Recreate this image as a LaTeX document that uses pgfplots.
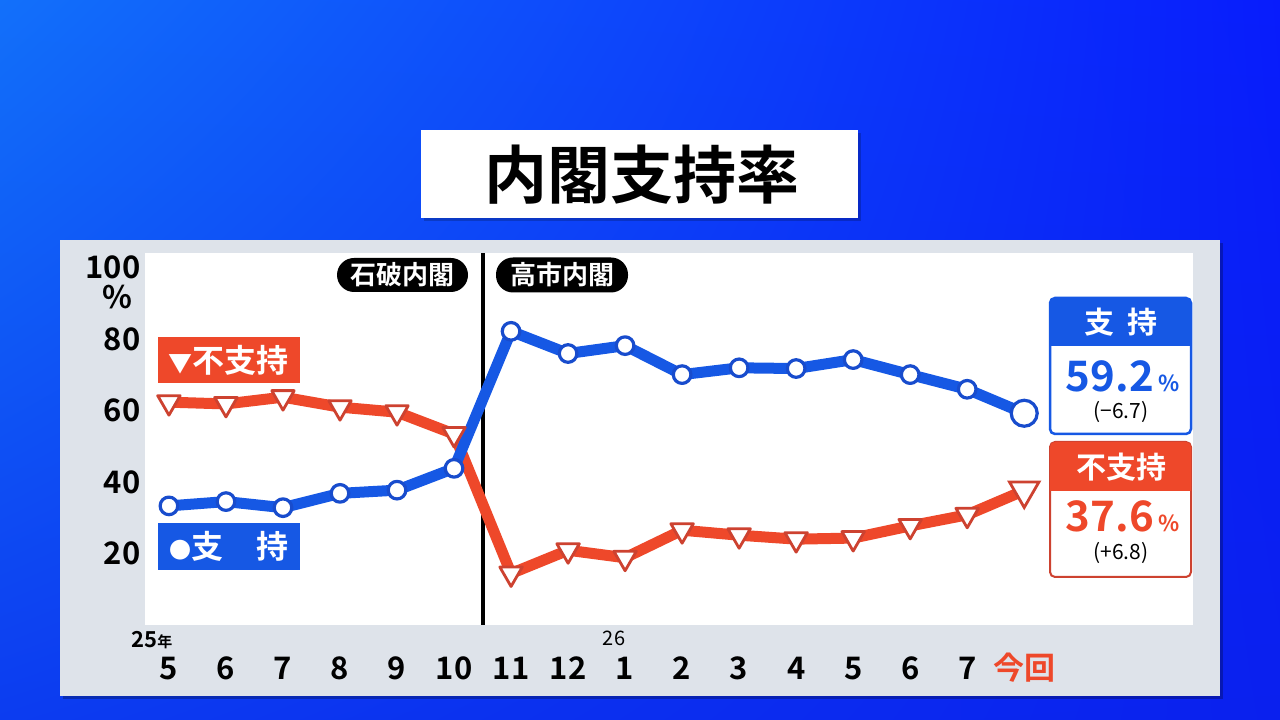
\documentclass[border=0pt]{standalone}
\usepackage{fontspec}
\setmainfont{Noto Sans CJK JP}[BoldFont={Noto Sans CJK JP Bold}]
\usepackage{pgfplots}
\usepackage{pgfplotstable}
\usetikzlibrary{shadings}
\pgfplotsset{compat=1.18}
\definecolor{bgul}{RGB}{18,112,250}
\definecolor{bgur}{RGB}{8,28,252}
\definecolor{bgll}{RGB}{12,60,240}
\definecolor{bglr}{RGB}{10,32,238}
\definecolor{panel}{RGB}{222,227,234}
\definecolor{sblue}{RGB}{22,88,228}
\definecolor{mblue}{RGB}{24,76,205}
\definecolor{sred}{RGB}{238,72,42}
\definecolor{mred}{RGB}{205,66,48}

\pgfplotstableread{
x y
0 33.3
1 34.5
2 32.8
3 36.8
4 37.7
5 43.8
6 82.1
7 75.9
8 78.1
9 70.0
10 71.9
11 71.7
12 74.2
13 70.0
14 65.9
15 59.2
}\shiji

\pgfplotstableread{
x y
0 62.3
1 61.8
2 63.7
3 60.9
4 59.5
5 53.4
6 14.4
7 20.9
8 18.8
9 26.5
10 25.1
11 24.0
12 24.3
13 27.7
14 30.8
15 37.6
}\fushiji

\begin{document}
\begin{tikzpicture}[x=1pt,y=1pt]
\useasboundingbox (0,0) rectangle (1280,720);
\shade[upper left=bgul, upper right=bgur, lower left=bgll, lower right=bglr] (0,0) rectangle (1280,720);
% title
\fill[black,opacity=0.2] (424,499) rectangle (861,587);
\fill[white] (421,502) rectangle (858,590);
\node[font=\fontsize{63}{63}\selectfont\bfseries] at (642,545) {内閣支持率};
% panel
\fill[black,opacity=0.25] (63,21) rectangle (1223,477);
\fill[panel] (60,24) rectangle (1220,480);
\fill[white] (145,95) rectangle (1193,467);

\begin{axis}[
  at={(145pt,95pt)}, anchor=south west,
  scale only axis, width=1048pt, height=372pt,
  xmin=-0.42, xmax=17.96, ymin=0, ymax=104,
  axis line style={draw=none},
  major tick length=0pt,
  xtick={0,...,15},
  xticklabels={5,6,7,8,9,10,11,12,1,2,3,4,5,6,7,{\textcolor{sred}{今回}}},
  ytick={20,40,60,80,100},
  yticklabels={20,40,60,80,100},
  tick label style={font=\fontsize{31}{31}\selectfont\bfseries},
  xticklabel style={anchor=base, yshift=-55pt},
  yticklabel style={anchor=east, xshift=-1pt},
  /pgf/number format/assume math mode=true,
  clip=false,
]
\draw[black, line width=4pt] (axis cs:5.5,0) -- (axis cs:5.5,104);
\addplot[sred, line width=11pt, line join=round, mark=triangle*, mark size=13pt,
  mark options={rotate=180, fill=white, draw=mred, line width=2.8pt}] table {\fushiji};
\addplot[only marks, mark=triangle*, mark size=17pt,
  mark options={rotate=180, fill=white, draw=mred, line width=2.8pt}] coordinates {(15,37.6)};
\addplot[sblue, line width=11pt, line join=round, mark=*, mark size=8.8pt,
  mark options={fill=white, draw=mblue, line width=3.2pt}] table {\shiji};
\addplot[only marks, mark=*, mark size=13pt,
  mark options={fill=white, draw=mblue, line width=3.2pt}] coordinates {(15,59.2)};
\end{axis}

% y unit
\node[anchor=east, inner sep=0, font=\fontsize{31}{31}\selectfont\bfseries] at (133,423) {\%};
% year marks
\node[font=\fontsize{22}{22}\selectfont\bfseries, inner sep=0] at (152,80) {25{\fontsize{15}{15}\selectfont 年}};
\node[font=\fontsize{20}{20}\selectfont, inner sep=0] at (614,82) {26};

% cabinet pills
\node[fill=black, text=white, rounded corners=17pt, minimum width=131pt, minimum height=34pt, inner sep=0,
  font=\fontsize{26}{26}\selectfont\bfseries] at (402.5,445) {石破内閣};
\node[fill=black, text=white, rounded corners=17pt, minimum width=132pt, minimum height=35pt, inner sep=0,
  font=\fontsize{26}{26}\selectfont\bfseries] at (562,445) {高市内閣};

% series labels
\node[fill=sred, text=white, minimum width=142pt, minimum height=46pt, inner sep=0,
  font=\fontsize{32}{32}\selectfont\bfseries] at (228.5,360) {{\fontsize{24}{24}\selectfont ▼}不支持};
\node[fill=sblue, text=white, minimum width=142pt, minimum height=47pt, inner sep=0,
  font=\fontsize{32}{32}\selectfont\bfseries] at (229,173.5) {{\fontsize{22}{22}\selectfont ●}支\hspace{34pt}持};

% right summary boxes
\draw[sblue, line width=2.5pt, fill=white, rounded corners=5pt] (1050,286) rectangle (1191,422);
\fill[sblue, rounded corners=5pt] (1050,374) rectangle (1191,422);
\fill[sblue] (1050,374) rectangle (1191,385);
\node[text=white, font=\fontsize{30}{30}\selectfont\bfseries] at (1121,398) {支\hspace{14pt}持};
\node[anchor=base, text=sblue, inner sep=0, font=\bfseries] at (1123,328)
  {{\fontsize{42}{42}\selectfont 59.2}\hspace{5pt}{\fontsize{22}{22}\selectfont\%}};
\node[anchor=base, inner sep=0, font=\fontsize{21}{21}\selectfont] at (1121,301) {(−6.7)};

\draw[mred, line width=2pt, fill=white, rounded corners=5pt] (1050,143) rectangle (1191,278);
\fill[sred, rounded corners=5pt] (1050,229) rectangle (1191,278);
\fill[sred] (1050,229) rectangle (1191,240);
\node[text=white, font=\fontsize{30}{30}\selectfont\bfseries] at (1121,253) {不支持};
\node[anchor=base, text=sred, inner sep=0, font=\bfseries] at (1123,188)
  {{\fontsize{42}{42}\selectfont 37.6}\hspace{5pt}{\fontsize{22}{22}\selectfont\%}};
\node[anchor=base, inner sep=0, font=\fontsize{21}{21}\selectfont] at (1121,160) {(+6.8)};
\end{tikzpicture}
\end{document}
